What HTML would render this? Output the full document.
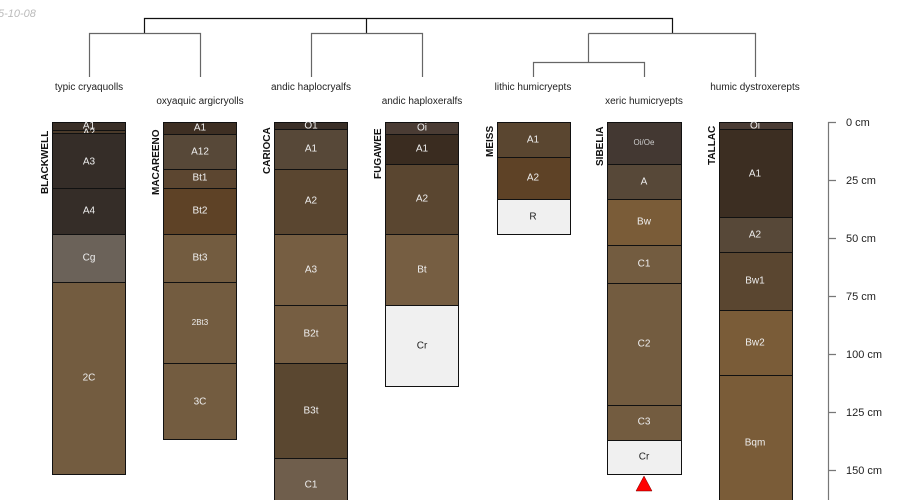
<!DOCTYPE html>
<html><head><meta charset="utf-8"><style>
body{margin:0;background:#fff;width:900px;height:500px;overflow:hidden}
svg{display:block;font-family:"Liberation Sans",sans-serif}
.h text{font-size:10px;fill:#eee;text-anchor:middle;dominant-baseline:middle}
.h rect{stroke:#111;stroke-width:1}
.t{font-size:10px;fill:#222;text-anchor:middle}
.n{font-size:10px;font-weight:bold;fill:#111}
.ax{font-size:11px;fill:#222}
</style></head><body>
<svg width="900" height="500" viewBox="0 0 900 500">
<text x="-2" y="17" font-size="11" font-style="italic" fill="#bbb">5-10-08</text>
<g fill="none" stroke-width="1.2">
<path d="M144.5 33V18.5H672.5V33M366.5 18.5V33" stroke="#111"/>
<path d="M89.5 77V33.5H200.5V77M144.5 33.5M311.5 77V33.5H422.5V77M588.5 33.5H755.5V77M588.5 33.5V62.5M533.5 77V62.5H644.5V77" stroke="#666"/>
</g>
<g class="t">
<text x="89" y="90">typic cryaquolls</text><text x="200" y="104">oxyaquic argicryolls</text>
<text x="311" y="90">andic haplocryalfs</text><text x="422" y="104">andic haploxeralfs</text>
<text x="533" y="90">lithic humicryepts</text><text x="644" y="104">xeric humicryepts</text>
<text x="755" y="90">humic dystroxerepts</text>
</g>
<g class="n">
<text transform="translate(48,194) rotate(-90)">BLACKWELL</text>
<text transform="translate(159,195) rotate(-90)">MACAREENO</text>
<text transform="translate(270,174) rotate(-90)">CARIOCA</text>
<text transform="translate(381,179) rotate(-90)">FUGAWEE</text>
<text transform="translate(493,157) rotate(-90)">MEISS</text>
<text transform="translate(603,166) rotate(-90)">SIBELIA</text>
<text transform="translate(715,165) rotate(-90)">TALLAC</text>
</g>
<g class="h">
<!-- Blackwell -->
<rect x="52.5" y="122.5" width="73" height="8" fill="#3a2f27"/><text x="89" y="126">A1</text>
<rect x="52.5" y="130.5" width="73" height="3" fill="#4a3a2a"/><text x="89" y="133">A2</text>
<rect x="52.5" y="133.5" width="73" height="55" fill="#352d28"/><text x="89" y="162">A3</text>
<rect x="52.5" y="188.5" width="73" height="46" fill="#352d28"/><text x="89" y="211">A4</text>
<rect x="52.5" y="234.5" width="73" height="48" fill="#6b6259"/><text x="89" y="258">Cg</text>
<rect x="52.5" y="282.5" width="73" height="192" fill="#735c40"/><text x="89" y="378">2C</text>
<!-- Macareeno -->
<rect x="163.5" y="122.5" width="73" height="12" fill="#3e2f23"/><text x="200" y="128">A1</text>
<rect x="163.5" y="134.5" width="73" height="35" fill="#574838"/><text x="200" y="152">A12</text>
<rect x="163.5" y="169.5" width="73" height="19" fill="#5c4630"/><text x="200" y="178">Bt1</text>
<rect x="163.5" y="188.5" width="73" height="46" fill="#5e4226"/><text x="200" y="211">Bt2</text>
<rect x="163.5" y="234.5" width="73" height="48" fill="#735c40"/><text x="200" y="258">Bt3</text>
<rect x="163.5" y="282.5" width="73" height="81" fill="#735c40"/><text x="200" y="323" style="font-size:8px">2Bt3</text>
<rect x="163.5" y="363.5" width="73" height="76" fill="#735c40"/><text x="200" y="402">3C</text>
<!-- Carioca -->
<rect x="274.5" y="122.5" width="73" height="7" fill="#3a2f27"/><text x="311" y="126">O1</text>
<rect x="274.5" y="129.5" width="73" height="40" fill="#574838"/><text x="311" y="149">A1</text>
<rect x="274.5" y="169.5" width="73" height="65" fill="#5a4630"/><text x="311" y="201">A2</text>
<rect x="274.5" y="234.5" width="73" height="71" fill="#765e42"/><text x="311" y="270">A3</text>
<rect x="274.5" y="305.5" width="73" height="58" fill="#765e42"/><text x="311" y="334">B2t</text>
<rect x="274.5" y="363.5" width="73" height="95" fill="#5a4730"/><text x="311" y="411">B3t</text>
<rect x="274.5" y="458.5" width="73" height="50" fill="#6f5e4c"/><text x="311" y="485">C1</text>
<!-- Fugawee -->
<rect x="385.5" y="122.5" width="73" height="12" fill="#4a3c34"/><text x="422" y="128">Oi</text>
<rect x="385.5" y="134.5" width="73" height="30" fill="#3a2c20"/><text x="422" y="149">A1</text>
<rect x="385.5" y="164.5" width="73" height="70" fill="#5a4630"/><text x="422" y="199">A2</text>
<rect x="385.5" y="234.5" width="73" height="71" fill="#765e42"/><text x="422" y="270">Bt</text>
<rect x="385.5" y="305.5" width="73" height="81" fill="#f0f0f0"/><text x="422" y="346" style="fill:#222">Cr</text>
<!-- Meiss -->
<rect x="497.5" y="122.5" width="73" height="35" fill="#5a4630"/><text x="533" y="140">A1</text>
<rect x="497.5" y="157.5" width="73" height="42" fill="#5e4226"/><text x="533" y="178">A2</text>
<rect x="497.5" y="199.5" width="73" height="35" fill="#f0f0f0"/><text x="533" y="217" style="fill:#222">R</text>
<!-- Sibelia -->
<rect x="607.5" y="122.5" width="74" height="42" fill="#433832"/><text x="644" y="143" style="font-size:8px;fill:#ccc">Oi/Oe</text>
<rect x="607.5" y="164.5" width="74" height="35" fill="#574838"/><text x="644" y="182">A</text>
<rect x="607.5" y="199.5" width="74" height="46" fill="#7a5c38"/><text x="644" y="222">Bw</text>
<rect x="607.5" y="245.5" width="74" height="38" fill="#735c40"/><text x="644" y="264">C1</text>
<rect x="607.5" y="283.5" width="74" height="122" fill="#735c40"/><text x="644" y="344">C2</text>
<rect x="607.5" y="405.5" width="74" height="35" fill="#735c40"/><text x="644" y="422">C3</text>
<rect x="607.5" y="440.5" width="74" height="34" fill="#f0f0f0"/><text x="644" y="457" style="fill:#222">Cr</text>
<!-- Tallac -->
<rect x="719.5" y="122.5" width="73" height="7" fill="#4a3c34"/><text x="755" y="126">Oi</text>
<rect x="719.5" y="129.5" width="73" height="88" fill="#3c2e22"/><text x="755" y="174">A1</text>
<rect x="719.5" y="217.5" width="73" height="35" fill="#574838"/><text x="755" y="235">A2</text>
<rect x="719.5" y="252.5" width="73" height="58" fill="#5a4630"/><text x="755" y="281">Bw1</text>
<rect x="719.5" y="310.5" width="73" height="65" fill="#7a5c38"/><text x="755" y="343">Bw2</text>
<rect x="719.5" y="375.5" width="73" height="135" fill="#7a5c38"/><text x="755" y="443">Bqm</text>
</g>
<polygon points="644,476 636,491 652,491" fill="#f00" stroke="#700" stroke-width="0.5"/>
<g stroke="#777" stroke-width="1.2">
<path d="M828.5 122V500M828 122.5H836M828 180.5H836M828 238.5H836M828 296.5H836M828 354.5H836M828 412.5H836M828 470.5H836"/>
</g>
<g class="ax">
<text x="846" y="126">0 cm</text><text x="846" y="184">25 cm</text><text x="846" y="242">50 cm</text>
<text x="846" y="300">75 cm</text><text x="846" y="358">100 cm</text><text x="846" y="416">125 cm</text><text x="846" y="474">150 cm</text>
</g>
</svg>
</body></html>
